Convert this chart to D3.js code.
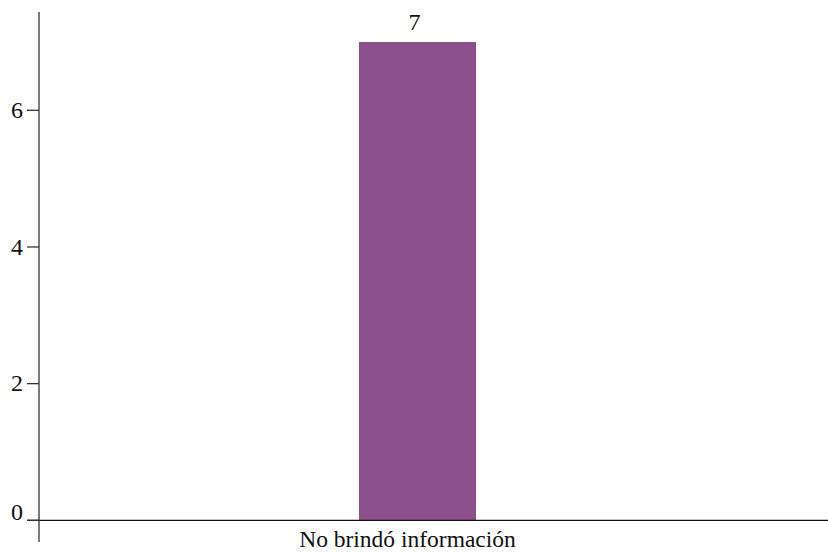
<!DOCTYPE html>
<html>
<head>
<meta charset="utf-8">
<script src="https://cdn.jsdelivr.net/npm/d3@7"></script>
<style>
  html, body { margin: 0; padding: 0; background: #fff; }
  svg { display: block; }
  text { font-family: "Liberation Serif", "DejaVu Serif", serif; fill: #111; }
</style>
</head>
<body>
<svg id="chart" width="828" height="552"></svg>
<script>
const categories = ["No brindó información"];
const values = [7];
const yTicks = [0, 2, 4, 6];
const barColor = "#8b4f8b";

const svg = d3.select("#chart");
const W = 828, H = 552;
const x0 = 39, y0 = 520.3, unit = 68.33;

const y = d3.scaleLinear().domain([0, 6]).range([y0, y0 - 6 * unit]);
const x = d3.scaleBand().domain(categories).range([x0, 796]).paddingInner(0.7322).paddingOuter(0.7322);

// bars
svg.selectAll("rect.bar").data(values).join("rect")
  .attr("class", "bar")
  .attr("x", (d, i) => x(categories[i]))
  .attr("width", x.bandwidth())
  .attr("y", d => y(d))
  .attr("height", d => y(0) - y(d))
  .attr("fill", barColor);

// value labels
svg.selectAll("text.val").data(values).join("text")
  .attr("class", "val")
  .attr("x", (d, i) => x(categories[i]) + x.bandwidth() / 2 - 3)
  .attr("y", d => y(d) - 12)
  .attr("text-anchor", "middle")
  .attr("font-size", 24)
  .text(d => d);

// x axis line
svg.append("line")
  .attr("x1", 27).attr("x2", W)
  .attr("y1", y(0)).attr("y2", y(0))
  .attr("stroke", "#111").attr("stroke-width", 1.3);

// y axis line
svg.append("line")
  .attr("x1", x0).attr("x2", x0)
  .attr("y1", 12).attr("y2", 542)
  .attr("stroke", "#333").attr("stroke-width", 1.3);

// y ticks
const yt = svg.append("g");
yt.selectAll("line").data(yTicks).join("line")
  .attr("x1", 27).attr("x2", x0)
  .attr("y1", d => y(d)).attr("y2", d => y(d))
  .attr("stroke", "#333").attr("stroke-width", 1.3);
yt.selectAll("text").data(yTicks).join("text")
  .attr("x", 23)
  .attr("y", d => y(d))
  .attr("dy", d => d === 0 ? "0" : "0.32em")
  .attr("text-anchor", "end")
  .attr("font-size", 24)
  .text(d => d);

// x tick labels
svg.selectAll("text.cat").data(categories).join("text")
  .attr("class", "cat")
  .attr("x", d => x(d) + x.bandwidth() / 2 - 10)
  .attr("y", 547)
  .attr("text-anchor", "middle")
  .attr("font-size", 23.5)
  .text(d => d);
</script>
</body>
</html>
